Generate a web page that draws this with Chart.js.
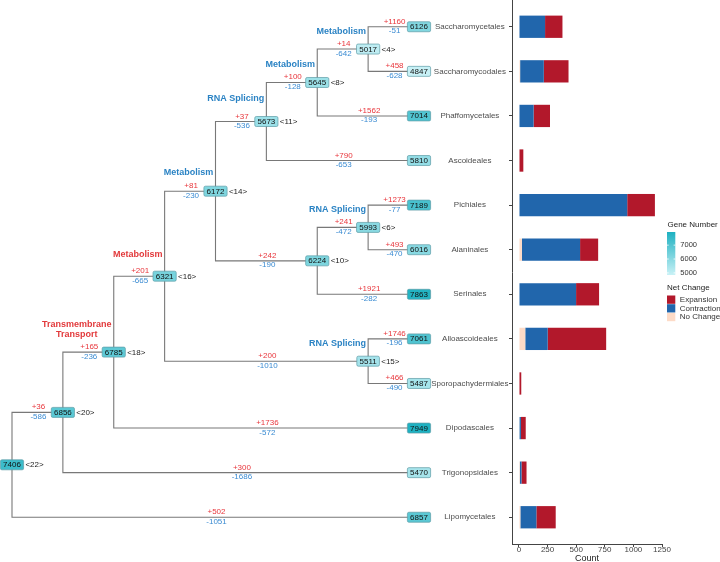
<!DOCTYPE html>
<html>
<head>
<meta charset="utf-8">
<script src="https://cdn.jsdelivr.net/npm/chart.js@4.4.1/dist/chart.umd.min.js"></script>
<style>
  html, body { margin: 0; padding: 0; background: #ffffff; overflow: hidden; }
  #wrap { position: relative; width: 720px; height: 562px; }
  #wrap canvas { position: absolute; left: 0; top: 0; }
</style>
</head>
<body>
<div id="wrap">
  <canvas id="tree" width="720" height="562"></canvas>
  <canvas id="bars" width="720" height="562"></canvas>
</div>
<script>
// ---------------- DATA ----------------
// tips, top to bottom
const tipNames = ["Saccharomycetales", "Saccharomycodales", "Phaffomycetales", "Ascoideales",
  "Pichiales", "Alaninales", "Serinales", "Alloascoideales", "Sporopachydermiales",
  "Dipodascales", "Trigonopsidales", "Lipomycetales"];
const tipGenes = [6126, 4847, 7014, 5810, 7189, 6016, 7863, 7061, 5487, 7949, 5470, 6857];
const tipGain  = [1160, 458, 1562, 790, 1273, 493, 1921, 1746, 466, 1736, 300, 502];
const tipLoss  = [51, 628, 193, 653, 77, 470, 282, 196, 490, 572, 1686, 1051];
// parent of each tip (index into the combined node list: tips 0-11, internal nodes 12-22)
const tipParent = [12, 12, 13, 14, 15, 15, 16, 18, 18, 20, 21, 22];

// internal nodes (combined index 12..22)
const nodeIds       = [4, 8, 11, 6, 10, 14, 15, 16, 18, 20, 22];
const nodeGenes     = [5017, 5645, 5673, 5993, 6224, 6172, 5511, 6321, 6785, 6856, 7406];
const nodeGain      = [14, 100, 37, 241, 242, 81, 200, 201, 165, 36, null];
const nodeLoss      = [642, 128, 536, 472, 190, 230, 1010, 665, 236, 586, null];
const nodeParent    = [13, 14, 17, 16, 17, 19, 19, 20, 21, 22, -1];
const nodeFunction  = ["Metabolism", "Metabolism", "RNA Splicing", "RNA Splicing", "", "Metabolism",
  "RNA Splicing", "Metabolism", "Transmembrane\nTransport", "", ""];
const nodeFunctionGroup = ["blue", "blue", "blue", "blue", "", "blue", "blue", "red", "red", "", ""];

// bar chart (gene family counts)
const noChange    = [0, 10, 0, 0, 0, 26, 0, 55, 0, 5, 8, 12];
const contraction = [228, 207, 128, 0, 946, 508, 499, 196, 0, 12, 14, 140];
const expansion   = [152, 216, 143, 38, 242, 158, 201, 511, 20, 42, 44, 169];
const countTicks  = [0, 250, 500, 750, 1000, 1250];
const geneLegendTicks = [5000, 6000, 7000];

// ---------------- STYLE ----------------
const FONT = '"Liberation Sans", Arial, Helvetica, sans-serif';
Chart.defaults.font.family = FONT;
const COL = {
  line: '#787878', gain: '#e8363c', loss: '#3a8bd2',
  funcBlue: '#2b83c4', funcRed: '#e2393b', tip: '#4d4d4d',
  boxStroke: '#5f9ca6', expansion: '#B2182B', contraction: '#2166AC', nochange: '#FDDBC7',
  axis: '#444444'
};
const geneLow = [200, 241, 246], geneHigh = [30, 177, 193];
const funcNudge = { 16: -21.5, 11: -23, 14: -18.5 };

// ---------------- TREE GEOMETRY ----------------
const allGenes = tipGenes.concat(nodeGenes);
const allGain = tipGain.concat(nodeGain);
const allLoss = tipLoss.concat(nodeLoss);
const parent = tipParent.concat(nodeParent);
const NT = tipNames.length, NN = parent.length;
const yPos = new Array(NN), depth = new Array(NN);
const tipDepth = 8;
for (let i = 0; i < NT; i++) { yPos[i] = i; depth[i] = tipDepth; }
for (let i = NT; i < NN; i++) {
  const kids = [];
  for (let k = 0; k < NN; k++) if (parent[k] === i) kids.push(k);
  yPos[i] = (Math.min(...kids.map(k => yPos[k])) + Math.max(...kids.map(k => yPos[k]))) / 2;
  depth[i] = Math.min(...kids.map(k => depth[k])) - 1;
}
const geneMin = Math.min(...allGenes), geneMax = Math.max(...allGenes);
function geneColor(v) {
  const t = (v - geneMin) / (geneMax - geneMin);
  const c = geneLow.map((lo, j) => Math.round(lo + (geneHigh[j] - lo) * t));
  return `rgb(${c[0]},${c[1]},${c[2]})`;
}

const branchSets = [];
for (let i = 0; i < NN; i++) {
  const p = parent[i];
  if (p < 0) continue;
  branchSets.push({
    data: [{ x: depth[p], y: yPos[p] }, { x: depth[p], y: yPos[i] }, { x: depth[i], y: yPos[i] }],
    showLine: true, borderColor: COL.line, borderWidth: 1.1, pointRadius: 0,
    fill: false, tension: 0, borderJoinStyle: 'miter', borderCapStyle: 'square'
  });
}

function roundRect(ctx, x, y, w, h, r) {
  ctx.beginPath();
  ctx.moveTo(x + r, y);
  ctx.lineTo(x + w - r, y); ctx.quadraticCurveTo(x + w, y, x + w, y + r);
  ctx.lineTo(x + w, y + h - r); ctx.quadraticCurveTo(x + w, y + h, x + w - r, y + h);
  ctx.lineTo(x + r, y + h); ctx.quadraticCurveTo(x, y + h, x, y + h - r);
  ctx.lineTo(x, y + r); ctx.quadraticCurveTo(x, y, x + r, y);
  ctx.closePath();
}

const treeLabels = {
  id: 'treeLabels',
  afterDatasetsDraw(chart) {
    const { ctx, scales: { x, y } } = chart;
    const px = d => x.getPixelForValue(d), py = v => y.getPixelForValue(v);
    ctx.save();
    ctx.textBaseline = 'middle';
    // gains / losses on branches
    ctx.font = `8px ${FONT}`;
    ctx.textAlign = 'center';
    for (let i = 0; i < NN; i++) {
      const p = parent[i];
      if (p < 0) continue;
      const mx = (px(depth[p]) + px(depth[i])) / 2 + 1;
      const yy = py(yPos[i]);
      ctx.fillStyle = COL.gain; ctx.fillText('+' + allGain[i], mx, yy - 5.2);
      ctx.fillStyle = COL.loss; ctx.fillText('-' + allLoss[i], mx, yy + 4.3);
    }
    // function labels
    ctx.font = `bold 9px ${FONT}`;
    for (let j = 0; j < nodeFunction.length; j++) {
      if (!nodeFunction[j]) continue;
      const i = NT + j;
      const lines = nodeFunction[j].split('\n');
      const right = px(depth[i]) - 2.2;
      const widths = lines.map(l => ctx.measureText(l).width);
      const bw = Math.max(...widths);
      const cx = right - bw / 2;
      const lastY = py(yPos[i]) + (funcNudge[nodeIds[j]] !== undefined ? funcNudge[nodeIds[j]] : -17.5);
      ctx.fillStyle = nodeFunctionGroup[j] === 'red' ? COL.funcRed : COL.funcBlue;
      ctx.textAlign = 'center';
      lines.forEach((l, k) => ctx.fillText(l, cx, lastY - (lines.length - 1 - k) * 10.4));
    }
    // gene number boxes
    ctx.font = `8px ${FONT}`;
    for (let i = 0; i < NN; i++) {
      const cx = px(depth[i]), cy = py(yPos[i]);
      const txt = String(allGenes[i]);
      const w = ctx.measureText(txt).width + 5.4, h = 10;
      roundRect(ctx, cx - w / 2, cy - h / 2, w, h, 1.5);
      ctx.fillStyle = geneColor(allGenes[i]);
      ctx.fill();
      ctx.lineWidth = 0.7; ctx.strokeStyle = COL.boxStroke; ctx.stroke();
      ctx.fillStyle = '#111'; ctx.textAlign = 'center';
      ctx.fillText(txt, cx, cy + 0.3);
      if (i >= NT) {
        ctx.textAlign = 'left'; ctx.fillStyle = '#222';
        ctx.fillText('<' + nodeIds[i - NT] + '>', cx + w / 2 + 1.8, cy + 0.3);
      }
    }
    // tip names
    ctx.font = `8px ${FONT}`;
    ctx.fillStyle = COL.tip; ctx.textAlign = 'center';
    for (let i = 0; i < NT; i++) ctx.fillText(tipNames[i], px(tipDepth + 1), py(yPos[i]));
    ctx.restore();
  }
};

new Chart(document.getElementById('tree'), {
  type: 'scatter',
  data: { datasets: branchSets },
  options: {
    responsive: false, animation: false, events: [],
    layout: { padding: { left: 0, right: 208, top: 0, bottom: 18 } },
    plugins: { legend: { display: false }, tooltip: { enabled: false } },
    scales: {
      x: { type: 'linear', display: false, min: -12 / 50.875, max: -12 / 50.875 + 512 / 50.875 },
      y: { type: 'linear', display: false, min: -0.6, max: 11.6, reverse: true }
    }
  },
  plugins: [treeLabels]
});

// ---------------- BAR CHART + LEGENDS ----------------
const legendPlugin = {
  id: 'legends',
  afterDraw(chart) {
    const ctx = chart.ctx;
    const lx = chart.chartArea.right + 5;
    ctx.save();
    ctx.textBaseline = 'middle';
    ctx.textAlign = 'left';
    // Gene Number colour bar
    ctx.fillStyle = '#222'; ctx.font = `8px ${FONT}`;
    ctx.fillText('Gene Number', lx + 0.5, 225);
    const top = 232, bot = 275, bw = 8.3;
    const g = ctx.createLinearGradient(0, bot, 0, top);
    g.addColorStop(0, geneColor(geneMin));
    g.addColorStop(1, geneColor(geneMax));
    ctx.fillStyle = g; ctx.fillRect(lx, top, bw, bot - top);
    const gy = v => bot - (v - geneMin) / (geneMax - geneMin) * (bot - top);
    ctx.strokeStyle = '#ffffff'; ctx.lineWidth = 0.8;
    ctx.font = `7.5px ${FONT}`;
    geneLegendTicks.forEach(v => {
      const yy = gy(v);
      ctx.beginPath();
      ctx.moveTo(lx, yy); ctx.lineTo(lx + 1.7, yy);
      ctx.moveTo(lx + bw - 1.7, yy); ctx.lineTo(lx + bw, yy);
      ctx.stroke();
      ctx.fillStyle = '#333'; ctx.fillText(String(v), lx + 13.3, yy);
    });
    // Net Change legend
    ctx.fillStyle = '#222'; ctx.font = `8px ${FONT}`;
    ctx.fillText('Net Change', lx, 288);
    const items = [['Expansion', COL.expansion], ['Contraction', COL.contraction], ['No Change', COL.nochange]];
    ctx.font = `8px ${FONT}`;
    items.forEach(([name, c], k) => {
      const ky = 295.5 + k * 8.7;
      ctx.fillStyle = c; ctx.fillRect(lx, ky, 8.3, 8.3);
      ctx.fillStyle = '#333'; ctx.fillText(name, lx + 12.8, ky + 4.2);
    });
    ctx.restore();
  }
};

const barSet = (label, arr, color) => ({
  label, data: arr.map((v, i) => ({ x: v, y: i })), backgroundColor: color,
  borderWidth: 0, categoryPercentage: 1, barPercentage: 0.5
});

new Chart(document.getElementById('bars'), {
  type: 'bar',
  data: {
    datasets: [
      barSet('No Change', noChange, COL.nochange),
      barSet('Contraction', contraction, COL.contraction),
      barSet('Expansion', expansion, COL.expansion)
    ]
  },
  options: {
    indexAxis: 'y', responsive: false, animation: false, events: [],
    layout: { padding: { left: 509, right: 58, top: 0, bottom: 0 } },
    plugins: { legend: { display: false }, tooltip: { enabled: false } },
    scales: {
      x: {
        type: 'linear', min: -61, max: 1250, stacked: true, position: 'bottom', offset: false,
        afterBuildTicks: s => { s.ticks = countTicks.map(v => ({ value: v })); },
        afterFit: s => { s.height = 18; },
        grid: { drawOnChartArea: false, drawTicks: true, tickLength: 3, color: COL.axis, lineWidth: 1, offset: false },
        border: { display: true, color: COL.axis, width: 1 },
        ticks: { color: '#444', padding: -1, maxRotation: 0, autoSkip: false, font: { size: 8, lineHeight: 1 },
                 callback: v => String(v) },
        title: { display: true, text: 'Count', color: '#222', font: { size: 9, lineHeight: 1 }, padding: { top: 0, bottom: -1 } }
      },
      y: {
        type: 'linear', min: -0.6, max: 11.6, reverse: true, stacked: true, offset: false,
        afterBuildTicks: s => { s.ticks = tipNames.map((_, i) => ({ value: i })); },
        afterFit: s => { s.width = 3; },
        grid: { drawOnChartArea: false, drawTicks: true, tickLength: 3, color: COL.axis, lineWidth: 1, offset: false },
        border: { display: true, color: COL.axis, width: 1 },
        ticks: { display: false }
      }
    }
  },
  plugins: [legendPlugin]
});
</script>
</body>
</html>
